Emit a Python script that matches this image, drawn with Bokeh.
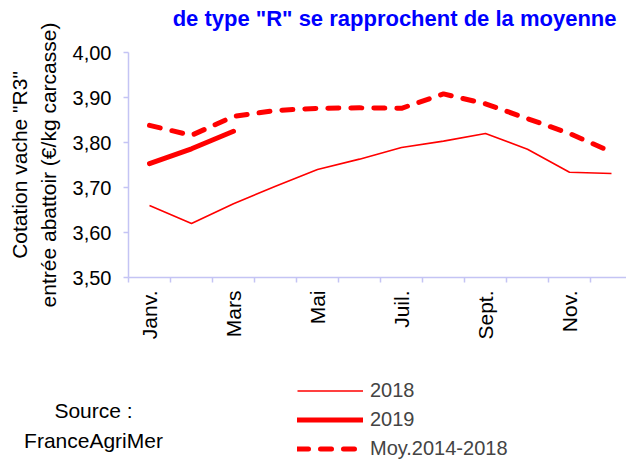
import math
from bokeh.plotting import figure
from bokeh.models import (FixedTicker, CustomJSTickFormatter, Range1d, Legend,
                          LegendItem, Label)
from bokeh.embed import file_html
from bokeh.resources import INLINE

# ---- data ----
months = ["Janv.", "Févr.", "Mars", "Avril", "Mai", "Juin",
          "Juil.", "Août", "Sept.", "Oct.", "Nov.", "Déc."]
month_labels = ["Janv.", "", "Mars", "", "Mai", "", "Juil.", "", "Sept.", "", "Nov.", ""]
v2018 = [3.660, 3.620, 3.664, 3.703, 3.740, 3.763, 3.789, 3.803, 3.820, 3.785, 3.734, 3.731]
v2019 = [3.753, 3.786, 3.825]
vmoy = [3.838, 3.816, 3.858, 3.871, 3.876, 3.877, 3.876, 3.908, 3.886, 3.853, 3.820, 3.779]
y_ticks = [3.50, 3.60, 3.70, 3.80, 3.90, 4.00]
series_names = ["2018", "2019", "Moy.2014-2018"]
title_text = 'de type "R" se rapprochent de la moyenne'
y_label = 'Cotation vache "R3"\nentrée abattoir (€/kg carcasse)'
source_lines = ["Source :", "FranceAgriMer"]

FONT = "Liberation Sans"
AXIS_COLOR = "#c4c4f4"
RED = "#ff0000"

W, H = 626, 461
# plot area geometry (pixels in the canvas)
AX_LEFT, AX_TOP, AX_BOTTOM, BAND = 128, 52, 277, 42.0
YMIN, YMAX = 3.5, 4.0
ppu = (AX_BOTTOM - AX_TOP) / (YMAX - YMIN)

x_all = [i + 0.5 for i in range(len(months))]

p = figure(width=W, height=H, output_backend="svg", toolbar_location=None,
           x_range=Range1d(-AX_LEFT / BAND, (W - AX_LEFT) / BAND),
           y_range=Range1d(YMAX - (H - AX_TOP) / ppu, YMAX + AX_TOP / ppu),
           min_border=0)
p.outline_line_color = None
p.xgrid.visible = False
p.ygrid.visible = False
p.background_fill_color = "white"
p.border_fill_color = "white"

r2018 = p.line(x_all, v2018, line_color=RED, line_width=1.6)
r2019 = p.line(x_all[:len(v2019)], v2019, line_color=RED, line_width=5, line_cap="round")
rmoy = p.line(x_all, vmoy, line_color=RED, line_width=5, line_dash="11 12", line_cap="round")

# x axis
xa = p.xaxis[0]
xa.fixed_location = YMIN
xa.bounds = (0, len(months))
xa.ticker = FixedTicker(ticks=[x_all[i] for i, l in enumerate(month_labels) if l],
                        minor_ticks=list(range(len(months))))
xa.formatter = CustomJSTickFormatter(args=dict(labels=month_labels),
                                     code="return labels[Math.floor(tick)];")
xa.axis_line_color = AXIS_COLOR
xa.axis_line_width = 1.5
xa.major_tick_line_color = None
xa.major_tick_out = 5
xa.major_tick_in = 0
xa.minor_tick_line_color = AXIS_COLOR
xa.minor_tick_line_width = 1.5
xa.minor_tick_out = 5
xa.minor_tick_in = 0
xa.major_label_orientation = math.pi / 2
xa.major_label_standoff = 8
xa.major_label_text_font = FONT
xa.major_label_text_font_size = "21px"
xa.major_label_text_color = "black"

# y axis
ya = p.yaxis[0]
ya.fixed_location = 0
ya.bounds = (YMIN, YMAX)
ya.ticker = FixedTicker(ticks=y_ticks)
ya.formatter = CustomJSTickFormatter(code="return tick.toFixed(2).replace('.', ',');")
ya.axis_line_color = AXIS_COLOR
ya.axis_line_width = 1.5
ya.major_tick_line_color = AXIS_COLOR
ya.major_tick_line_width = 1.5
ya.major_tick_out = 5
ya.major_tick_in = 0
ya.minor_tick_line_color = None
ya.major_label_standoff = 12
ya.major_label_text_font = FONT
ya.major_label_text_font_size = "20px"
ya.major_label_text_color = "black"
ya.axis_label = y_label
ya.axis_label_text_font = FONT
ya.axis_label_text_font_size = "21px"
ya.axis_label_text_font_style = "normal"
ya.axis_label_text_color = "black"
ya.axis_label_standoff = 10
ya.axis_label_text_line_height = 1.25

# title (upper line of the original title is cropped away)
p.add_layout(Label(x=W - 10, y=H - 18, x_units="screen", y_units="screen",
                   text=title_text, text_align="right", text_baseline="alphabetic",
                   text_font=FONT, text_font_size="22px", text_font_style="bold",
                   text_color="#0000ff"))

legend = Legend(items=[LegendItem(label=series_names[0], renderers=[r2018]),
                       LegendItem(label=series_names[1], renderers=[r2019]),
                       LegendItem(label=series_names[2], renderers=[rmoy])],
                location=(297, -1), orientation="vertical",
                glyph_width=66, glyph_height=27, label_height=27, spacing=2,
                padding=0, margin=0, border_line_color=None,
                background_fill_alpha=0, label_text_font=FONT,
                label_text_font_size="20px", label_standoff=7)
p.add_layout(legend)

for txt, yy in zip(source_lines, [H - 410, H - 440]):
    p.add_layout(Label(x=93, y=yy, x_units="screen", y_units="screen", text=txt,
                       text_align="center", text_baseline="middle",
                       text_font=FONT, text_font_size="21px", text_color="black"))

open("out.html", "w").write(file_html(p, INLINE))
